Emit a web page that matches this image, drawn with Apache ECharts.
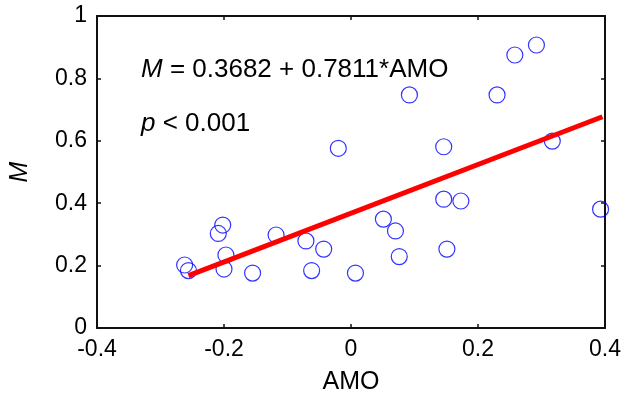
<!DOCTYPE html>
<html>
<head>
<meta charset="utf-8">
<script src="https://cdn.jsdelivr.net/npm/echarts@6/dist/echarts.min.js"></script>
<style>
html,body{margin:0;padding:0;background:#fff;}
#chart{width:628px;height:401px;}
</style>
</head>
<body>
<div id="chart"></div>
<script>
// AMO index values (x) and M values (y)
var amoValues = [-0.262,-0.256,-0.202,-0.209,-0.197,-0.200,-0.155,-0.118,-0.071,-0.043,-0.062,0.007,0.051,0.070,0.076,0.146,0.173,0.151,0.393,0.292,0.258,0.092,0.230,0.146,0.317,-0.020];
var mValues   = [0.202,0.184,0.330,0.303,0.234,0.189,0.176,0.298,0.279,0.253,0.184,0.176,0.349,0.311,0.229,0.413,0.407,0.253,0.381,0.907,0.875,0.747,0.747,0.581,0.599,0.576];
// fitted regression line end points
var fitX = [-0.256, 0.396];
var fitY = [0.168, 0.677];
var xTicks = [-0.4, -0.2, 0, 0.2, 0.4];
var yTicks = [0, 0.2, 0.4, 0.6, 0.8, 1];
var eqText = ' = 0.3682 + 0.7811*AMO';
var pText = ' < 0.001';

var font = 'Liberation Sans, Arial, sans-serif';
var axisLine = {show: true, onZero: false, lineStyle: {color: '#111', width: 2}};
var tickIn = {show: true, inside: true, length: 4, lineStyle: {color: '#111', width: 1.5}};

var scatterData = amoValues.map(function(x, i){ return [x, mValues[i]]; });
var fitData = fitX.map(function(x, i){ return [x, fitY[i]]; });

var chart = echarts.init(document.getElementById('chart'), null, {renderer: 'canvas'});
chart.setOption({
  backgroundColor: '#fff',
  animation: false,
  textStyle: {fontFamily: font},
  grid: {left: 94, right: 23, top: 16, bottom: 73, show: false},
  xAxis: [{
    type: 'value', min: -0.4, max: 0.4, interval: 0.2, position: 'bottom',
    name: 'AMO', nameLocation: 'middle', nameGap: 42,
    nameTextStyle: {fontSize: 25, color: '#000', fontFamily: font},
    axisLine: axisLine, axisTick: tickIn, splitLine: {show: false},
    axisLabel: {fontSize: 23, color: '#000', margin: 10, fontFamily: font,
      formatter: function(v){ return String(v); }}
  }, {
    type: 'value', min: -0.4, max: 0.4, interval: 0.2, position: 'top',
    axisLine: axisLine, axisTick: tickIn, splitLine: {show: false},
    axisLabel: {show: false}
  }],
  yAxis: [{
    type: 'value', min: 0, max: 1, interval: 0.2, position: 'left',
    name: 'M', nameLocation: 'middle', nameGap: 64, nameRotate: 90,
    nameTextStyle: {fontSize: 25, color: '#000', fontStyle: 'italic', fontFamily: font},
    axisLine: axisLine, axisTick: tickIn, splitLine: {show: false},
    axisLabel: {fontSize: 23, color: '#000', margin: 10, fontFamily: font,
      formatter: function(v){ return String(v); }}
  }, {
    type: 'value', min: 0, max: 1, interval: 0.2, position: 'right',
    axisLine: axisLine, axisTick: tickIn, splitLine: {show: false},
    axisLabel: {show: false}
  }],
  series: [{
    type: 'scatter',
    data: scatterData,
    symbol: 'circle', symbolSize: 16,
    itemStyle: {color: 'rgba(0,0,0,0)', borderColor: '#0000ff', borderWidth: 1.2},
    z: 3
  }, {
    type: 'line',
    data: fitData,
    showSymbol: false, symbol: 'none',
    lineStyle: {color: '#ff0000', width: 5},
    z: 4
  }],
  graphic: [{
    type: 'text', left: 141, top: 57,
    style: {
      text: '{i|M}' + eqText,
      font: '26px ' + font, fill: '#000',
      rich: {i: {fontStyle: 'italic', fontSize: 26, fontFamily: font, fill: '#000'}}
    }
  }, {
    type: 'text', left: 141, top: 111,
    style: {
      text: '{i|p}' + pText,
      font: '26px ' + font, fill: '#000',
      rich: {i: {fontStyle: 'italic', fontSize: 26, fontFamily: font, fill: '#000'}}
    }
  }]
});
</script>
</body>
</html>
